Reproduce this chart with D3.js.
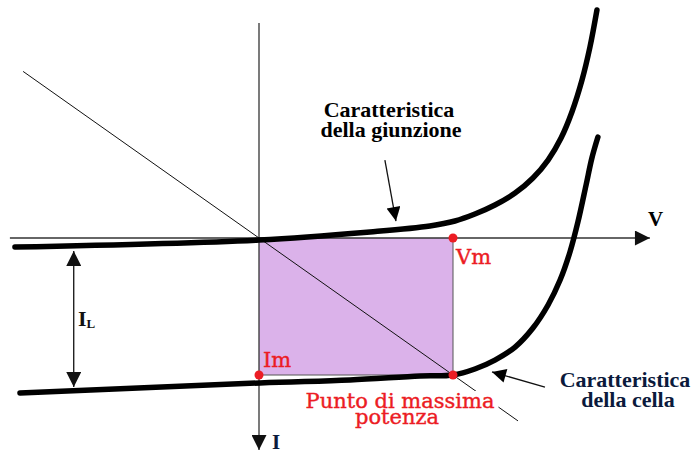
<!DOCTYPE html>
<html>
<head>
<meta charset="utf-8">
<script src="https://cdn.jsdelivr.net/npm/d3@7"></script>
<style>
  html, body { margin: 0; padding: 0; background: #fff; }
  #chart { width: 696px; height: 455px; }
</style>
</head>
<body>
<div id="chart"></div>
<script>
/* global d3 */

// V is normalised to Vm, I to Im (I axis points down)
const junctionV = [-1.258, 0, 0.572, 0.881, 1.010, 1.113, 1.216, 1.320, 1.412, 1.490, 1.557, 1.613, 1.665, 1.706, 1.742];
const junctionI = [0.066, 0.015, -0.044, -0.088, -0.124, -0.175, -0.241, -0.328, -0.438, -0.569, -0.730, -0.920, -1.153, -1.394, -1.664];

const cellV = [-1.232, 0.005, 0.469, 0.830, 1.0, 1.113, 1.216, 1.320, 1.412, 1.490, 1.552, 1.603, 1.644, 1.686, 1.716, 1.747];
const cellI = [1.131, 1.058, 1.036, 1.007, 1.0, 0.956, 0.891, 0.796, 0.657, 0.489, 0.307, 0.102, -0.117, -0.387, -0.584, -0.737];

const vm = 1;
const im = 1;
const vAxisExtent = [-1.284, 2.015];
const iAxisExtent = [-1.569, 1.547];
const loadLineV = [-1.216, 1.335];   // load line I = V
const ilArrowV = -0.955;
const ilArrowI = [0.095, 1.088];

/**
 * Draws the I-V diagram of a solar cell.
 * @param {string} selector - container id
 */
function drawDiagram(selector) {
    const width = 696, height = 455;

    const svg = d3.select(selector).append('svg')
        .attr('width', width)
        .attr('height', height);

    const x = d3.scaleLinear().domain([0, 1]).range([259, 453]);
    const y = d3.scaleLinear().domain([0, 1]).range([238, 375]);

    // arrow heads
    const defs = svg.append('defs');
    function marker(id, len, wid, color) {
        defs.append('marker')
            .attr('id', id)
            .attr('viewBox', '0 0 10 10')
            .attr('refX', 10).attr('refY', 5)
            .attr('markerUnits', 'userSpaceOnUse')
            .attr('markerWidth', len).attr('markerHeight', wid)
            .attr('orient', 'auto-start-reverse')
            .append('path')
            .attr('d', 'M0,0 L10,5 L0,10 Z')
            .style('fill', color);
    }
    marker('head-axis', 19, 15, '#111');
    marker('head-il', 16, 15, '#111');
    marker('head-label', 19, 14, '#000');

    // power rectangle
    svg.append('rect')
        .attr('x', x(0))
        .attr('y', y(0))
        .attr('width', x(vm) - x(0))
        .attr('height', y(im) - y(0))
        .style('fill', '#dbb2ea');

    svg.append('path')
        .attr('d', `M${x(0)},${y(im)} H${x(vm)} V${y(0)}`)
        .style('fill', 'none')
        .style('stroke', '#555')
        .style('stroke-width', 1);

    // axes
    svg.append('line')
        .attr('x1', x(vAxisExtent[0])).attr('y1', y(0))
        .attr('x2', x(vAxisExtent[1])).attr('y2', y(0))
        .style('stroke', '#333').style('stroke-width', 1.3)
        .attr('marker-end', 'url(#head-axis)');

    svg.append('line')
        .attr('x1', x(0)).attr('y1', y(iAxisExtent[0]))
        .attr('x2', x(0)).attr('y2', y(iAxisExtent[1]))
        .style('stroke', '#333').style('stroke-width', 1.3)
        .attr('marker-end', 'url(#head-axis)');

    // load line
    svg.append('line')
        .attr('x1', x(loadLineV[0])).attr('y1', y(loadLineV[0]))
        .attr('x2', x(loadLineV[1])).attr('y2', y(loadLineV[1]))
        .style('stroke', '#111').style('stroke-width', 1);

    // characteristics
    const line = d3.line()
        .x(d => x(d[0]))
        .y(d => y(d[1]))
        .curve(d3.curveCatmullRom.alpha(0.5));

    [[junctionV, junctionI], [cellV, cellI]].forEach(([vs, is]) => {
        svg.append('path')
            .datum(vs.map((v, i) => [v, is[i]]))
            .attr('d', line)
            .style('fill', 'none')
            .style('stroke', '#000')
            .style('stroke-width', 5.5)
            .style('stroke-linecap', 'round');
    });

    // IL arrow
    svg.append('line')
        .attr('x1', x(ilArrowV)).attr('y1', y(ilArrowI[0]))
        .attr('x2', x(ilArrowV)).attr('y2', y(ilArrowI[1]))
        .style('stroke', '#111').style('stroke-width', 1.3)
        .attr('marker-start', 'url(#head-il)')
        .attr('marker-end', 'url(#head-il)');

    // label arrows
    svg.append('line')
        .attr('x1', x(0.649)).attr('y1', y(-0.569))
        .attr('x2', x(0.706)).attr('y2', y(-0.124))
        .style('stroke', '#111').style('stroke-width', 1.3)
        .attr('marker-end', 'url(#head-label)');

    svg.append('line')
        .attr('x1', x(1.474)).attr('y1', y(1.088))
        .attr('x2', x(1.201)).attr('y2', y(0.978))
        .style('stroke', '#111').style('stroke-width', 1.3)
        .attr('marker-end', 'url(#head-label)');

    // "Punto di massima potenza" with white box behind it
    const red = '#ec1c24';
    const punto = svg.append('g');
    const box = punto.append('rect').style('fill', '#fff');
    const puntoText = punto.append('text')
        .style('font-family', '"DejaVu Serif", serif')
        .style('font-size', '21px')
        .style('fill', red)
        .style('stroke', red).style('stroke-width', 0.4)
        .style('text-anchor', 'middle');
    puntoText.append('tspan').attr('x', 400).attr('y', 408).text('Punto di massima');
    puntoText.append('tspan').attr('x', 397).attr('y', 424).text('potenza');
    const bb = puntoText.node().getBBox();
    box.attr('x', bb.x - 2).attr('y', bb.y + 2)
        .attr('width', bb.width + 6).attr('height', bb.height);

    // points
    [[0, im], [vm, 0], [vm, im]].forEach(p => {
        svg.append('circle')
            .attr('cx', x(p[0])).attr('cy', y(p[1]))
            .attr('r', 4.5)
            .style('fill', red);
    });

    const redLabel = (t, px, py) => svg.append('text')
        .attr('x', px).attr('y', py)
        .style('font-family', '"DejaVu Serif", serif')
        .style('font-size', '21px')
        .style('fill', red)
        .style('stroke', red).style('stroke-width', 0.4)
        .text(t);
    redLabel('Im', x(0) + 4, y(im) - 8);
    redLabel('Vm', x(vm) + 3, y(0) + 26);

    // black labels
    const boldLabel = (lines, cx, by, color) => {
        const t = svg.append('text')
            .style('font-family', '"Liberation Serif", serif')
            .style('font-weight', 'bold')
            .style('font-size', '22px')
            .style('fill', color)
            .style('text-anchor', 'middle');
        lines.forEach((s, i) => t.append('tspan').attr('x', cx[i]).attr('y', by + i * 20).text(s));
    };
    boldLabel(['Caratteristica', 'della giunzione'], [389, 391], 117, '#000');
    boldLabel(['Caratteristica', 'della cella'], [625, 628], 387, '#0b1a3c');

    svg.append('text')
        .attr('x', 648).attr('y', 226)
        .style('font-family', '"Liberation Serif", serif')
        .style('font-weight', 'bold').style('font-size', '21px')
        .text('V');

    svg.append('text')
        .attr('x', 272).attr('y', 449)
        .style('font-family', '"Liberation Serif", serif')
        .style('font-weight', 'bold').style('font-size', '21px')
        .style('fill', '#0b1a3c')
        .text('I');

    const il = svg.append('text')
        .attr('x', 78).attr('y', 326)
        .style('font-family', '"Liberation Serif", serif')
        .style('font-weight', 'bold').style('font-size', '22px')
        .style('fill', '#111');
    il.append('tspan').text('I');
    il.append('tspan').attr('dy', 2).style('font-size', '13px').text('L');
}

drawDiagram('#chart');
</script>
</body>
</html>
